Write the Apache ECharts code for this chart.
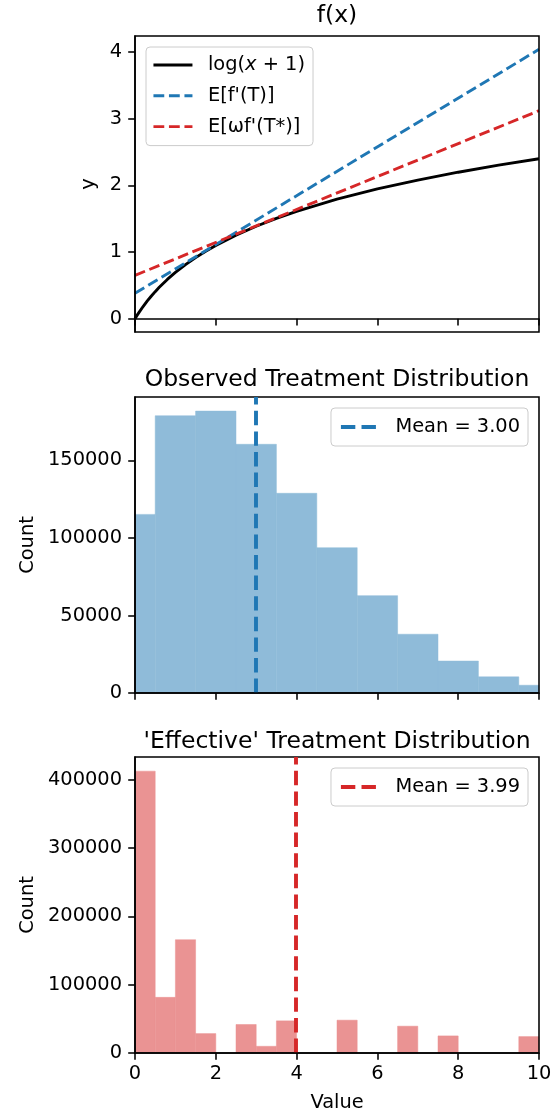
<!DOCTYPE html>
<html><head><meta charset="utf-8">
<script src="https://cdn.jsdelivr.net/npm/echarts@6/dist/echarts.min.js"></script>
<style>html,body{margin:0;padding:0;background:#fff}#c{width:556px;height:1116px}</style>
</head><body><div id="c"></div><script>
// ---- data ----
const curveX = [0, 0.05, 0.1, 0.2, 0.3, 0.4, 0.5, 0.6, 0.8, 1.0, 1.25, 1.5, 1.75, 2, 2.5, 3, 3.5, 4, 5, 6, 7, 8, 9, 10];
const curveY = [0, 0.049, 0.095, 0.182, 0.262, 0.336, 0.405, 0.470, 0.588, 0.693, 0.811, 0.916, 1.012, 1.099, 1.253, 1.386, 1.504, 1.609, 1.792, 1.946, 2.079, 2.197, 2.303, 2.398];
const tangentObsX = [0, 10];
const tangentObsY = [0.38, 4.04];
const tangentEffX = [0, 10];
const tangentEffY = [0.65, 3.12];
const obsEdges = [-0.5, 0.5, 1.5, 2.5, 3.5, 4.5, 5.5, 6.5, 7.5, 8.5, 9.5, 10.5];
const obsCounts = [115200, 178800, 181800, 160400, 128800, 93700, 62800, 37900, 20600, 10400, 5000];
const effEdges = [0, 0.5, 1, 1.5, 2, 2.5, 3, 3.5, 4, 4.5, 5, 5.5, 6, 6.5, 7, 7.5, 8, 8.5, 9, 9.5, 10];
const effCounts = [412300, 81400, 165700, 28400, 0, 41700, 9800, 47000, 0, 0, 48000, 0, 0, 39200, 0, 25000, 0, 0, 0, 24000];
const obsMean = 3.00;
const effMean = 3.99;
const xTicks = [0, 2, 4, 6, 8, 10];
const fTicks = [0, 1, 2, 3, 4];
const obsTicks = [0, 50000, 100000, 150000];
const effTicks = [0, 100000, 200000, 300000, 400000];
const titles = ['f(x)', 'Observed Treatment Distribution', "'Effective' Treatment Distribution"];
const names = { curve: 'log(x + 1)', obs: "E[f'(T)]", eff: "E[ωf'(T*)]", obsMean: 'Mean = 3.00', effMean: 'Mean = 3.99' };

// ---- build ----
const FONT = 'DejaVu Sans';
const FS = 19.4;
const BLUE = '#1f77b4', RED = '#d62728';
const BLUE_FILL = '#8fbbd9', RED_FILL = '#ea9393';
const zip = (a, b) => a.map((v, i) => [v, b[i]]);
const histData = (edges, counts) => counts.map((c, i) => [edges[i], edges[i + 1], c]);
const gridTops = [36, 397, 757];
const GH = 296;

function histRender(color) {
  return function (params, api) {
    const x0 = api.value(0), x1 = api.value(1), c = api.value(2);
    if (!c) return null;
    const p0 = api.coord([x0, c]);
    const p1 = api.coord([x1, 0]);
    const cs = params.coordSys;
    const shape = echarts.graphic.clipRectByRect(
      { x: p0[0], y: p0[1], width: p1[0] - p0[0], height: p1[1] - p0[1] },
      { x: cs.x, y: cs.y, width: cs.width, height: cs.height });
    return shape && { type: 'rect', shape: shape, style: { fill: color, stroke: color, lineWidth: 0.5 } };
  };
}

const axisLabelBase = { color: '#000', fontFamily: FONT, fontSize: FS };
function xAxis(i, showLabels) {
  return {
    type: 'value', gridIndex: i, min: 0, max: 10, interval: 2, z: 5,
    axisLine: { show: true, lineStyle: { color: '#000', width: 1.55 } },
    axisTick: { show: true, inside: false, length: 6.8, lineStyle: { color: '#000', width: 1.55 }, customValues: xTicks },
    axisLabel: Object.assign({ show: showLabels, margin: 11, customValues: xTicks }, axisLabelBase),
    splitLine: { show: false },
    name: showLabels ? 'Value' : '', nameLocation: 'middle', nameGap: 40,
    nameTextStyle: { color: '#000', fontFamily: FONT, fontSize: FS }
  };
}
function yAxis(i, min, max, ticks, name, gap) {
  return {
    type: 'value', gridIndex: i, min: min, max: max, z: 5,
    axisLine: { show: true, lineStyle: { color: '#000', width: 1.55 } },
    axisTick: { show: true, inside: false, length: 6.8, lineStyle: { color: '#000', width: 1.55 }, customValues: ticks },
    axisLabel: Object.assign({ margin: 13, customValues: ticks, formatter: v => String(v) }, axisLabelBase),
    splitLine: { show: false },
    name: name, nameLocation: 'middle', nameGap: gap,
    nameTextStyle: { color: '#000', fontFamily: FONT, fontSize: FS }
  };
}

const legendBase = {
  orient: 'vertical', selectedMode: false,
  backgroundColor: 'rgba(255,255,255,0.8)', borderColor: '#cccccc', borderWidth: 1, borderRadius: 4,
  itemWidth: 39, itemHeight: 14, itemGap: 10.8,
  itemStyle: { opacity: 0 },
  textStyle: { color: '#000', fontFamily: FONT, fontSize: FS, lineHeight: 20,
    rich: { g: { width: 10.5 }, n: { fontFamily: FONT, fontSize: FS, color: '#000' }, i: { fontFamily: FONT, fontSize: FS, fontStyle: 'italic', color: '#000' } } },
  formatter: function (n) {
    if (n === names.curve) return '{g| }{n|log(}{i|x}{n| + 1)}';
    return '{g| }{n|' + n + '}';
  }
};

const option = {
  animation: false,
  backgroundColor: '#fff',
  title: titles.map((t, i) => ({
    text: t, left: 337, top: [4, 368, 730][i], textAlign: 'center', padding: 0,
    textStyle: { color: '#000', fontFamily: FONT, fontSize: 23.5, fontWeight: 'normal' }
  })),
  grid: gridTops.map(t => ({ left: 135, width: 404, top: t, height: GH, show: true, borderColor: '#000', borderWidth: 1.55, z: 5, containLabel: false })),
  xAxis: [xAxis(0, false), xAxis(1, false), xAxis(2, true)],
  yAxis: [
    yAxis(0, -0.2, 4.24, fTicks, 'y', 30),
    yAxis(1, 0, 190900, obsTicks, 'Count', 97),
    yAxis(2, 0, 433000, effTicks, 'Count', 97)
  ],
  legend: [
    Object.assign({}, legendBase, { data: [names.curve, names.obs, names.eff], left: 146, top: 47, padding: [8, 8, 9, 6],
      lineStyle: { width: 2.9 } }),
    Object.assign({}, legendBase, { data: [names.obsMean], right: 28, top: 408, padding: [9, 8, 9, 8],
      lineStyle: { width: 3.9 } }),
    Object.assign({}, legendBase, { data: [names.effMean], right: 28, top: 768, padding: [9, 8, 9, 8],
      lineStyle: { width: 3.9 } })
  ],
  series: [
    { type: 'line', name: names.curve, xAxisIndex: 0, yAxisIndex: 0, data: zip(curveX, curveY), symbol: 'none',
      lineStyle: { color: '#000', width: 2.9 }, itemStyle: { color: '#000' } },
    { type: 'line', name: names.obs, xAxisIndex: 0, yAxisIndex: 0, data: zip(tangentObsX, tangentObsY), symbol: 'none',
      lineStyle: { color: BLUE, width: 2.9, type: [10.8, 4.7] }, itemStyle: { color: BLUE } },
    { type: 'line', name: names.eff, xAxisIndex: 0, yAxisIndex: 0, data: zip(tangentEffX, tangentEffY), symbol: 'none',
      lineStyle: { color: RED, width: 2.9, type: [10.8, 4.7] }, itemStyle: { color: RED } },
    { type: 'custom', name: 'obsHist', xAxisIndex: 1, yAxisIndex: 1, data: histData(obsEdges, obsCounts),
      encode: { x: [0, 1], y: 2 }, renderItem: histRender(BLUE_FILL), silent: true },
    { type: 'line', name: names.obsMean, xAxisIndex: 1, yAxisIndex: 1, data: [], symbol: 'none',
      lineStyle: { color: BLUE, width: 3.9, type: [14.4, 6.2] }, itemStyle: { color: BLUE },
      markLine: { silent: true, symbol: ['none', 'none'], label: { show: false },
        lineStyle: { color: BLUE, width: 3.9, type: [14.4, 6.2] }, data: [{ xAxis: obsMean }] } },
    { type: 'custom', name: 'effHist', xAxisIndex: 2, yAxisIndex: 2, data: histData(effEdges, effCounts),
      encode: { x: [0, 1], y: 2 }, renderItem: histRender(RED_FILL), silent: true },
    { type: 'line', name: names.effMean, xAxisIndex: 2, yAxisIndex: 2, data: [], symbol: 'none',
      lineStyle: { color: RED, width: 3.9, type: [14.4, 6.2] }, itemStyle: { color: RED },
      markLine: { silent: true, symbol: ['none', 'none'], label: { show: false },
        lineStyle: { color: RED, width: 3.9, type: [14.4, 6.2] }, data: [{ xAxis: effMean }] } }
  ]
};
const chart = echarts.init(document.getElementById('c'), null, { renderer: 'canvas' });
chart.setOption(option);
</script></body></html>
